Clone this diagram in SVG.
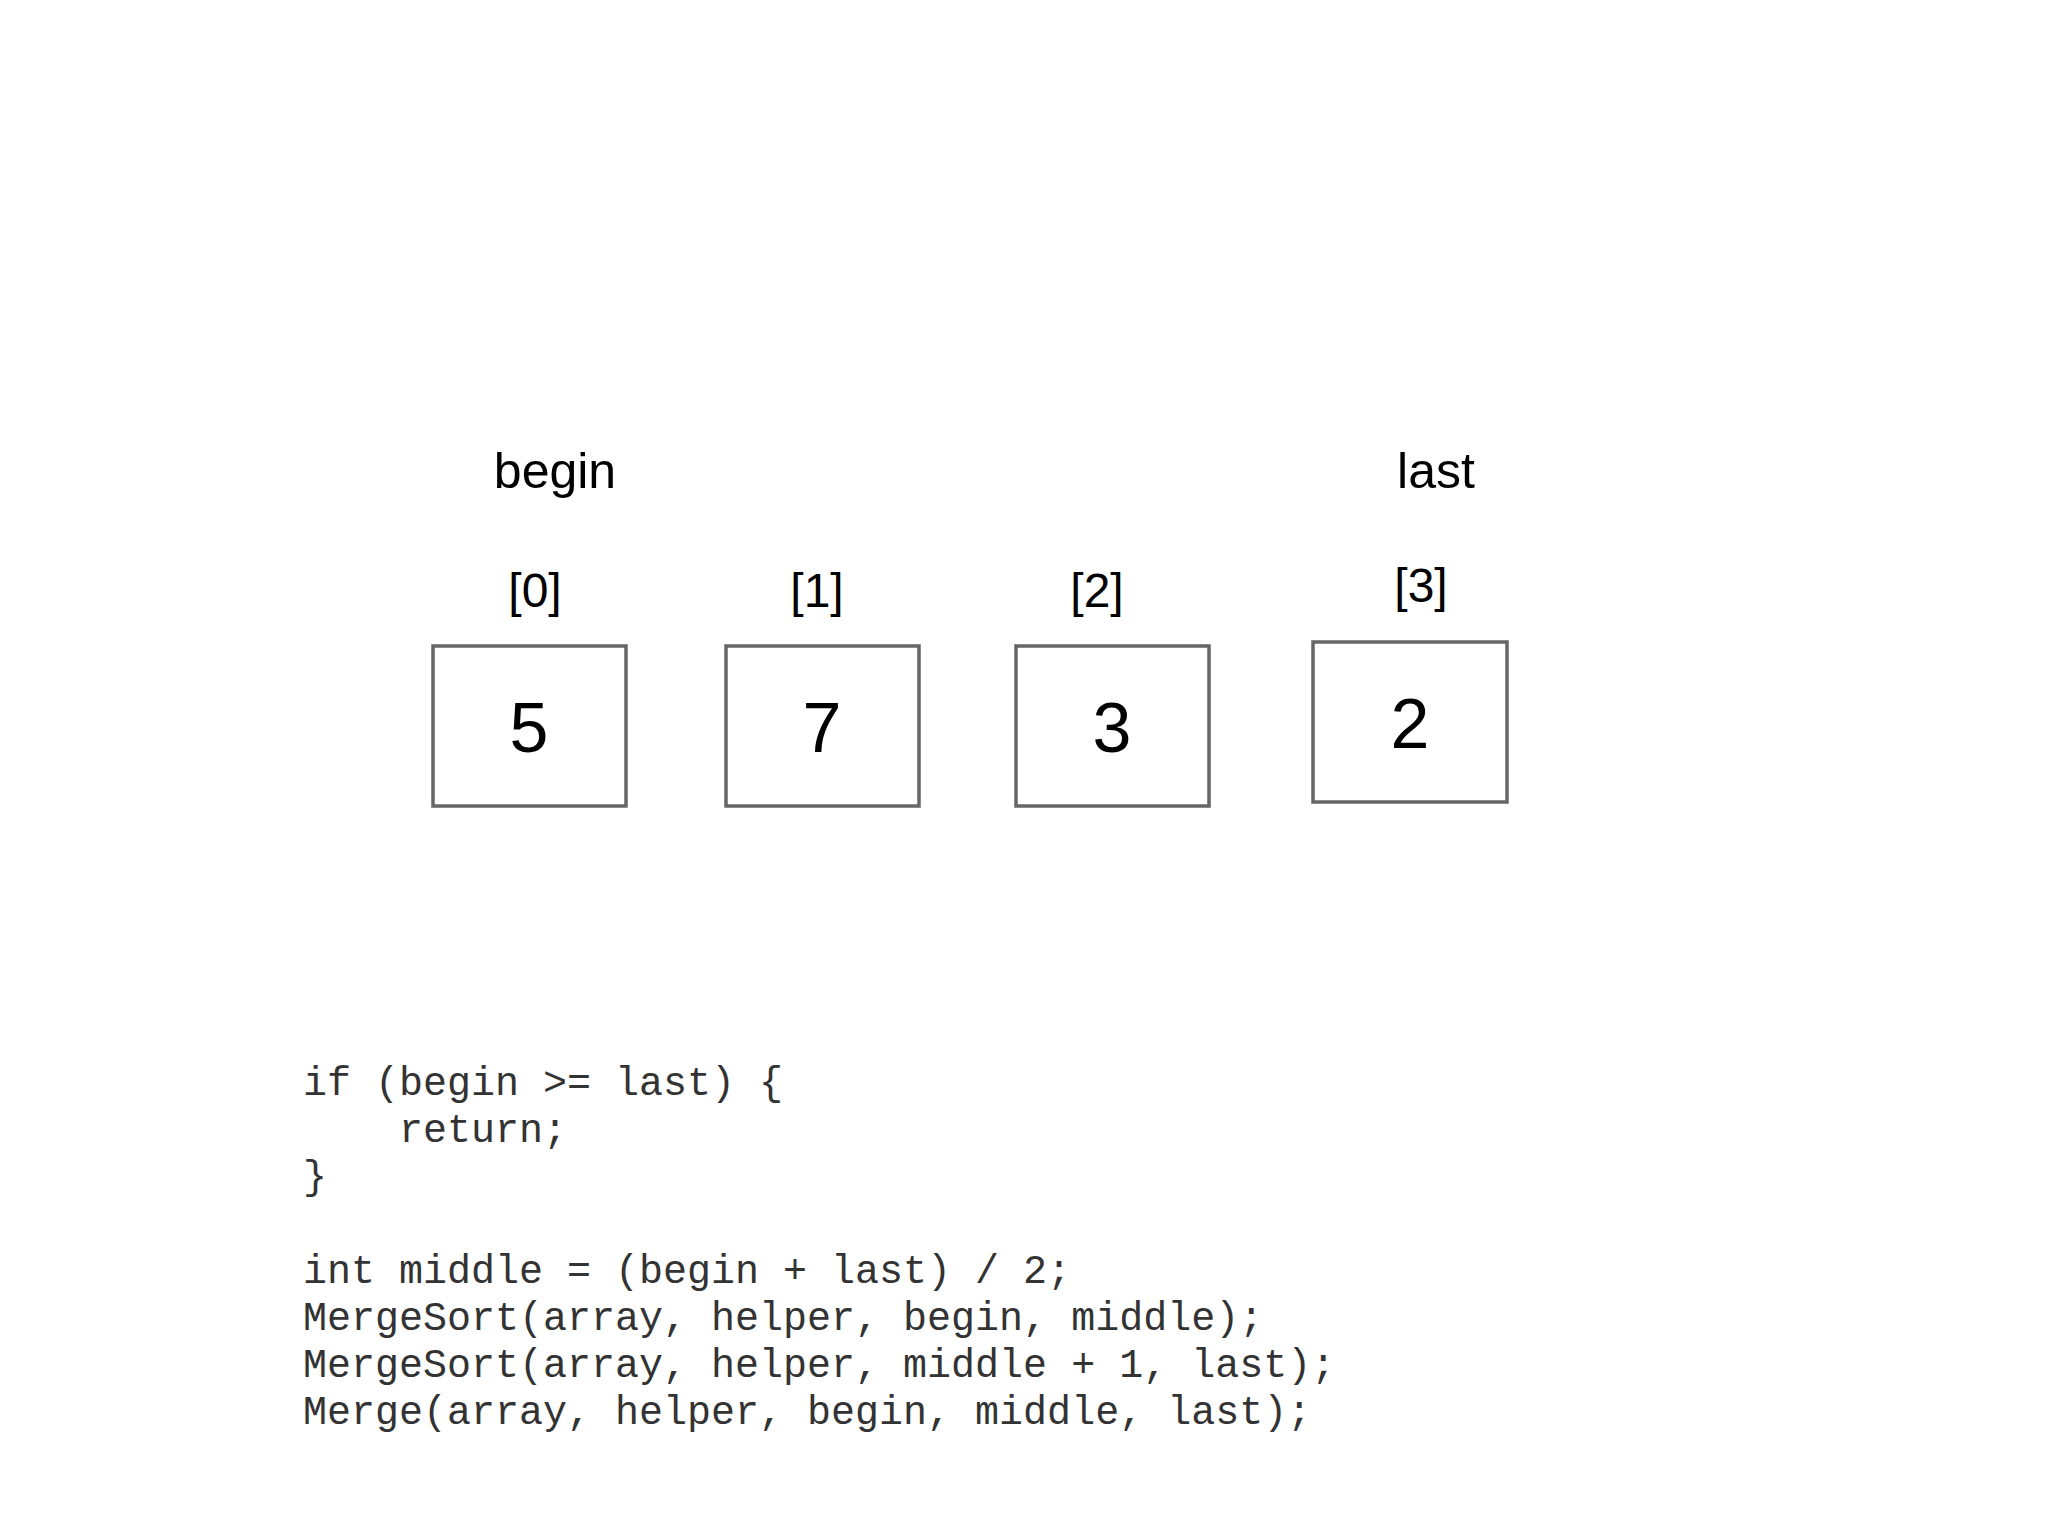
<svg xmlns="http://www.w3.org/2000/svg" width="2048" height="1536" viewBox="0 0 2048 1536">
<style>
.box{fill:#fff;stroke:#666;stroke-width:3.5}
.lbl{font-family:"Liberation Sans",Arial,sans-serif;font-size:48px;fill:#000;text-anchor:middle}
.big{font-size:50px}
.val{font-family:"Liberation Sans",Arial,sans-serif;font-size:70px;fill:#000;text-anchor:middle}
.code{font-family:"Liberation Mono","Courier New",monospace;font-size:40px;fill:#333;white-space:pre}
</style>
<rect width="2048" height="1536" fill="#fff"/>
<g id="label-begin"><text class="lbl big" x="555" y="488">begin</text></g>
<g id="label-last"><text class="lbl big" x="1436" y="488">last</text></g>
<g id="cell0">
<text class="lbl" x="535" y="607">[0]</text>
<rect class="box" x="433" y="646" width="193" height="160"/>
<text class="val" x="529" y="752">5</text>
</g>
<g id="cell1">
<text class="lbl" x="817" y="607">[1]</text>
<rect class="box" x="726" y="646" width="193" height="160"/>
<text class="val" x="822" y="752">7</text>
</g>
<g id="cell2">
<text class="lbl" x="1097" y="607">[2]</text>
<rect class="box" x="1016" y="646" width="193" height="160"/>
<text class="val" x="1112" y="752">3</text>
</g>
<g id="cell3">
<text class="lbl" x="1421" y="602">[3]</text>
<rect class="box" x="1313" y="642" width="194" height="160"/>
<text class="val" x="1410" y="748">2</text>
</g>
<g id="connectors"></g>
<g id="code">
<text class="code" x="303" y="1095">if (begin &gt;= last) {</text>
<text class="code" x="303" y="1142">    return;</text>
<text class="code" x="303" y="1189">}</text>
<text class="code" x="303" y="1283">int middle = (begin + last) / 2;</text>
<text class="code" x="303" y="1330">MergeSort(array, helper, begin, middle);</text>
<text class="code" x="303" y="1377">MergeSort(array, helper, middle + 1, last);</text>
<text class="code" x="303" y="1424">Merge(array, helper, begin, middle, last);</text>
</g>
</svg>
